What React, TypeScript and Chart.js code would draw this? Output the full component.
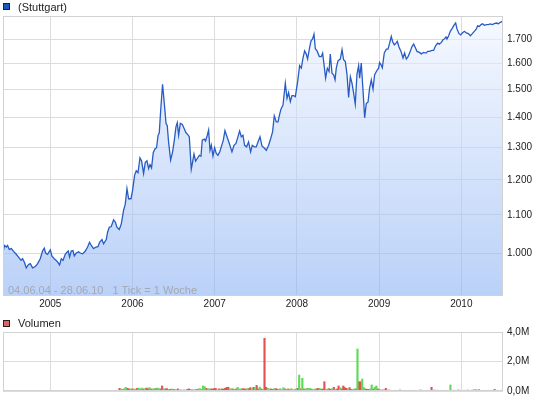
import { useEffect, useRef } from "react";
import { Chart, registerables } from "chart.js";
Chart.register(...registerables);

// ---- data ----
const rangeStart = 2004.425; // 04.06.04
const rangeEnd = 2010.507; // 28.06.10
const yearTicks = [2005, 2006, 2007, 2008, 2009, 2010];
const priceTicks = [1.0, 1.1, 1.2, 1.3, 1.4, 1.5, 1.6, 1.7];
const volumeTicks = [0, 2, 4];

const priceDates = [
  2004.425,2004.444,2004.465,2004.481,2004.501,2004.526,2004.554,2004.586,2004.614,2004.644,
  2004.663,2004.684,2004.708,2004.736,2004.757,2004.785,2004.818,2004.846,2004.878,2004.906,
  2004.927,2004.943,2004.967,2005.000,2005.021,2005.049,2005.082,2005.113,2005.134,2005.155,
  2005.182,2005.203,2005.219,2005.235,2005.255,2005.276,2005.292,2005.316,2005.344,2005.365,
  2005.393,2005.426,2005.454,2005.478,2005.499,2005.527,2005.556,2005.580,2005.600,2005.629,
  2005.648,2005.681,2005.697,2005.718,2005.742,2005.770,2005.791,2005.811,2005.839,2005.864,
  2005.892,2005.912,2005.933,2005.953,2005.982,2006.001,2006.026,2006.046,2006.067,2006.091,
  2006.111,2006.135,2006.156,2006.176,2006.196,2006.213,2006.232,2006.253,2006.274,2006.293,
  2006.310,2006.326,2006.342,2006.366,2006.387,2006.408,2006.423,2006.439,2006.464,2006.488,
  2006.509,2006.529,2006.545,2006.561,2006.582,2006.606,2006.627,2006.651,2006.670,2006.691,
  2006.715,2006.731,2006.748,2006.768,2006.788,2006.813,2006.833,2006.849,2006.873,2006.889,
  2006.910,2006.926,2006.943,2006.959,2006.979,2006.999,2007.019,2007.040,2007.064,2007.089,
  2007.105,2007.125,2007.150,2007.178,2007.210,2007.235,2007.259,2007.279,2007.303,2007.324,
  2007.344,2007.364,2007.388,2007.412,2007.437,2007.457,2007.482,2007.506,2007.527,2007.551,
  2007.575,2007.600,2007.628,2007.656,2007.676,2007.704,2007.725,2007.749,2007.770,2007.790,
  2007.807,2007.831,2007.859,2007.880,2007.899,2007.920,2007.940,2007.960,2007.981,2008.009,
  2008.033,2008.054,2008.074,2008.094,2008.114,2008.130,2008.155,2008.172,2008.191,2008.208,
  2008.224,2008.245,2008.273,2008.297,2008.313,2008.333,2008.349,2008.370,2008.391,2008.406,
  2008.427,2008.447,2008.464,2008.479,2008.500,2008.528,2008.549,2008.568,2008.589,2008.610,
  2008.629,2008.650,2008.670,2008.690,2008.710,2008.731,2008.751,2008.763,2008.783,2008.804,
  2008.824,2008.844,2008.865,2008.884,2008.905,2008.926,2008.945,2008.966,2008.994,2009.006,
  2009.023,2009.039,2009.063,2009.088,2009.108,2009.128,2009.148,2009.164,2009.185,2009.206,
  2009.221,2009.242,2009.266,2009.291,2009.310,2009.331,2009.352,2009.371,2009.400,2009.420,
  2009.440,2009.461,2009.489,2009.513,2009.541,2009.571,2009.590,2009.614,2009.644,2009.663,
  2009.687,2009.712,2009.732,2009.757,2009.777,2009.793,2009.814,2009.826,2009.846,2009.866,
  2009.891,2009.915,2009.931,2009.948,2009.972,2009.992,2010.012,2010.037,2010.061,2010.085,
  2010.110,2010.134,2010.158,2010.183,2010.198,2010.219,2010.240,2010.259,2010.280,2010.304,
  2010.328,2010.353,2010.377,2010.401,2010.426,2010.450,2010.474,2010.499,
];

const priceValues = [
  1.003,1.020,1.016,1.020,1.010,1.012,1.005,0.998,0.991,0.983,
  0.987,0.979,0.965,0.973,0.975,0.965,0.968,0.975,0.987,1.006,
  1.013,1.001,0.998,1.009,0.993,0.987,0.981,0.972,0.987,0.983,
  0.998,1.003,1.006,0.991,1.006,1.007,0.994,1.001,1.004,1.001,
  0.999,1.006,1.016,1.028,1.020,1.012,1.016,1.017,1.028,1.035,
  1.024,1.035,1.054,1.067,1.069,1.087,1.081,1.067,1.061,1.076,
  1.113,1.129,1.174,1.145,1.145,1.169,1.214,1.227,1.221,1.267,
  1.257,1.219,1.253,1.258,1.234,1.246,1.236,1.284,1.295,1.299,
  1.338,1.348,1.420,1.520,1.450,1.380,1.372,1.318,1.260,1.286,
  1.324,1.368,1.382,1.340,1.380,1.376,1.363,1.348,1.343,1.335,
  1.232,1.254,1.279,1.257,1.265,1.275,1.272,1.324,1.327,1.321,
  1.340,1.357,1.291,1.307,1.273,1.299,1.281,1.275,1.288,1.310,
  1.324,1.355,1.335,1.313,1.286,1.307,1.313,1.331,1.354,1.335,
  1.340,1.307,1.302,1.318,1.286,1.307,1.302,1.302,1.318,1.335,
  1.305,1.299,1.291,1.307,1.324,1.351,1.406,1.385,1.385,1.411,
  1.430,1.444,1.524,1.468,1.489,1.456,1.478,1.478,1.474,1.530,
  1.592,1.582,1.622,1.651,1.638,1.618,1.665,1.693,1.701,1.721,
  1.660,1.651,1.628,1.628,1.642,1.588,1.543,1.582,1.569,1.638,
  1.562,1.556,1.537,1.582,1.611,1.618,1.656,1.615,1.608,1.556,
  1.471,1.549,1.524,1.487,1.447,1.559,1.592,1.543,1.602,1.499,
  1.399,1.450,1.454,1.505,1.537,1.502,1.556,1.569,1.582,1.604,
  1.595,1.583,1.643,1.658,1.658,1.683,1.711,1.690,1.676,1.683,
  1.690,1.667,1.649,1.622,1.642,1.618,1.628,1.642,1.669,1.679,
  1.665,1.649,1.645,1.639,1.645,1.642,1.649,1.649,1.653,1.653,
  1.672,1.683,1.679,1.686,1.697,1.700,1.709,1.700,1.714,1.733,
  1.747,1.762,1.769,1.743,1.723,1.718,1.726,1.733,1.726,1.723,
  1.714,1.723,1.733,1.743,1.757,1.754,1.762,1.766,1.759,1.762,
  1.762,1.765,1.762,1.766,1.769,1.766,1.772,1.776,
];

// weekly volume (millions), first week starts at volumeStart
const volumeStart = 2005.843;
const volumeWeek = 7 / 365.25;
const volumes = [
  .18,.14,.11,.16,.25,.18,.14,.14,.14,.14,
  .11,.18,.20,.14,.20,.14,.16,.20,.16,.23,
  .14,.14,.16,.16,.20,.16,.14,.34,.16,.14,
  .16,.09,.11,.14,.11,.11,.07,.14,.07,.07,
  .05,.07,.05,.11,.14,.09,.09,.07,.09,.11,
  .14,.16,.11,.34,.29,.18,.16,.14,.14,.14,
  .16,.18,.07,.14,.14,.14,.14,.18,.25,.25,
  .14,.16,.14,.11,.14,.25,.14,.14,.16,.14,
  .14,.16,.16,.23,.14,.25,.23,.38,.14,.27,
  .14,.11,3.57,.25,.18,.14,.14,.11,.16,.16,
  .14,.11,.16,.09,.23,.14,.11,.14,.11,.16,
  .07,.11,.14,.18,1.08,.14,.86,.14,.14,.18,
  .18,.18,.11,.09,.14,.14,.18,.18,.11,.14,
  .63,.11,.14,.16,.11,.16,.25,.11,.14,.34,
  .23,.14,.34,.23,.18,.14,.23,.11,.11,.14,
  .14,2.85,.63,.63,.81,.23,.14,.11,.11,.14,
  .41,.14,.25,.34,.14,.11,.07,.07,.07,.18,
  .07,.07,.05,0,0,.05,0,0,.07,0,
  0,.05,0,0,.05,.05,0,.05,0,0,
  0,.07,0,0,0,.05,0,0,.25,0,
  .07,0,.05,0,.05,0,.05,0,0,0,
  .41,0,.05,0,0,.07,.05,0,0,.05,
  0,.07,0,0,.07,.07,.11,0,.11,.05,
  0,0,.05,0,.05,0,.05,0,.11,0,
  .05,0,.05,
];
// g = week closed up, r = week closed down
const volumeDirection =
  "rggggrrgrg" + "grgggrgrrg" + "rggrggrrgr" + "rrrgrgrrgr" + "grgrrrgrgr" +
  "gggggrggrr" + "rrgrgrrrrr" + "ggrgrgggrr" + "rgrrgrgrrg" + "rgrrggrrgr" +
  "rggggrgrgg" + "rggrgrgrgg" + "ggrggrrgrr" + "rggrrgrgrr" + "grrrrgrrgg" +
  "rgrrggrrrg" + "grggrggrrr" + "ggrggrggrg" + "gggggggggg" + "grggggggrg" +
  "ggrggggggg" + "ggrggrrggg" + "gggggggggr" + "ggggrgrgrg" + "rgg";

// ---- styles ----
const FONT = '"Liberation Sans", Arial, Helvetica, sans-serif';
const GRID = "#dcdcdc";
const LINE = "rgb(40,92,196)";
const UP = "rgb(96,218,88)";
const DOWN = "rgb(226,82,82)";

const frame = {
  id: "frame",
  afterDatasetsDraw(chart: any) {
    const { ctx, chartArea } = chart;
    const { left, top, right, bottom } = chartArea;
    ctx.save();
    ctx.strokeStyle = "#d2d2d2";
    ctx.lineWidth = 1;
    ctx.strokeRect(left + 0.5, top + 0.5, right - left - 1, bottom - top - 1);
    ctx.restore();
  },
};

export default function App() {
  const mainRef = useRef<HTMLCanvasElement>(null);
  const volRef = useRef<HTMLCanvasElement>(null);

  useEffect(() => {
    document.body.style.margin = "0";
    Chart.defaults.font.family = FONT;
    Chart.defaults.font.size = 10;
    Chart.defaults.color = "#222";

    const pricePoints = priceDates.map((x, i) => ({ x, y: priceValues[i] }));

    const main = new Chart(mainRef.current!, {
      type: "line",
      data: {
        datasets: [
          {
            data: pricePoints,
            borderColor: LINE,
            borderWidth: 1.3,
            pointRadius: 0,
            tension: 0,
            fill: "start",
            backgroundColor: (c: any) => {
              const { chart } = c;
              const area = chart.chartArea;
              if (!area) return "rgba(190,210,248,0.6)";
              const g = chart.ctx.createLinearGradient(0, area.top, 0, area.bottom);
              g.addColorStop(0, "rgba(240,245,255,0.6)");
              g.addColorStop(1, "rgba(140,178,243,0.6)");
              return g;
            },
          },
        ],
      },
      options: {
        responsive: false,
        animation: false,
        layout: { padding: { left: 3, top: 16, right: 0, bottom: 0 } },
        plugins: { legend: { display: false }, tooltip: { enabled: false } },
        scales: {
          x: {
            type: "linear",
            min: rangeStart,
            max: rangeEnd,
            afterBuildTicks: (s: any) => {
              s.ticks = yearTicks.map((v) => ({ value: v }));
            },
            afterFit: (s: any) => {
              s.height = 16;
            },
            grid: { color: GRID, drawTicks: false },
            border: { display: false },
            ticks: {
              padding: 2,
              autoSkip: false,
              maxRotation: 0,
              color: "#222",
              callback: (v: any) => String(v),
            },
          },
          y: {
            type: "logarithmic",
            position: "right",
            min: 0.9,
            max: 1.8,
            afterBuildTicks: (s: any) => {
              s.ticks = priceTicks.map((v) => ({ value: v }));
            },
            afterFit: (s: any) => {
              s.width = 42;
            },
            grid: { color: GRID, drawTicks: false },
            border: { display: false },
            ticks: {
              padding: 4,
              autoSkip: false,
              color: "#222",
              callback: (v: any) => Number(v).toFixed(3),
            },
          },
        },
      },
      plugins: [frame],
    });

    const upBars: { x: number; y: number }[] = [];
    const downBars: { x: number; y: number }[] = [];
    volumes.forEach((v, i) => {
      if (v <= 0) return;
      const p = { x: volumeStart + i * volumeWeek, y: v };
      if (volumeDirection[i] === "r") downBars.push(p);
      else upBars.push(p);
    });

    const vol = new Chart(volRef.current!, {
      type: "bar",
      data: {
        datasets: [
          { data: upBars, backgroundColor: UP, barThickness: 1.5, grouped: false } as any,
          { data: downBars, backgroundColor: DOWN, barThickness: 1.5, grouped: false } as any,
        ],
      },
      options: {
        responsive: false,
        animation: false,
        layout: { padding: { left: 3, top: 20, right: 0, bottom: 0 } },
        plugins: { legend: { display: false }, tooltip: { enabled: false } },
        scales: {
          x: {
            type: "linear",
            min: rangeStart,
            max: rangeEnd,
            offset: false,
            afterBuildTicks: (s: any) => {
              s.ticks = yearTicks.map((v) => ({ value: v }));
            },
            afterFit: (s: any) => {
              s.height = 10;
            },
            grid: { color: GRID, drawTicks: false, offset: false },
            border: { display: false },
            ticks: { display: false },
          },
          y: {
            type: "linear",
            position: "right",
            min: 0,
            max: 4,
            afterBuildTicks: (s: any) => {
              s.ticks = volumeTicks.map((v) => ({ value: v }));
            },
            afterFit: (s: any) => {
              s.width = 42;
            },
            grid: { color: GRID, drawTicks: false },
            border: { display: false },
            ticks: {
              padding: 4,
              autoSkip: false,
              color: "#222",
              callback: (v: any) => Number(v).toFixed(1).replace(".", ",") + "M",
            },
          },
        },
      },
      plugins: [frame],
    });

    return () => {
      main.destroy();
      vol.destroy();
    };
  }, []);

  const legendText: React.CSSProperties = {
    position: "absolute",
    left: 18,
    fontSize: 11,
    lineHeight: "13px",
    color: "#222",
    whiteSpace: "pre",
  };
  const box = (color: string, top: number): React.CSSProperties => ({
    position: "absolute",
    left: 3,
    top,
    width: 7,
    height: 7,
    boxSizing: "border-box",
    border: "1px solid #222",
    background: color,
  });

  return (
    <div style={{ position: "relative", width: 545, height: 401, fontFamily: FONT, overflow: "hidden" }}>
      <canvas ref={mainRef} width={545} height={312} style={{ position: "absolute", left: 0, top: 0 }} />
      <canvas ref={volRef} width={545} height={89} style={{ position: "absolute", left: 0, top: 312 }} />
      <div style={box("rgb(32,86,186)", 3)} />
      <div style={{ ...legendText, top: 1 }}>(Stuttgart)</div>
      <div style={{ ...legendText, top: 284, left: 8, color: "#a4a8b0" }}>
        {"04.06.04 - 28.06.10   1 Tick = 1 Woche"}
      </div>
      <div style={box("rgb(224,98,98)", 320)} />
      <div style={{ ...legendText, top: 317 }}>Volumen</div>
    </div>
  );
}
